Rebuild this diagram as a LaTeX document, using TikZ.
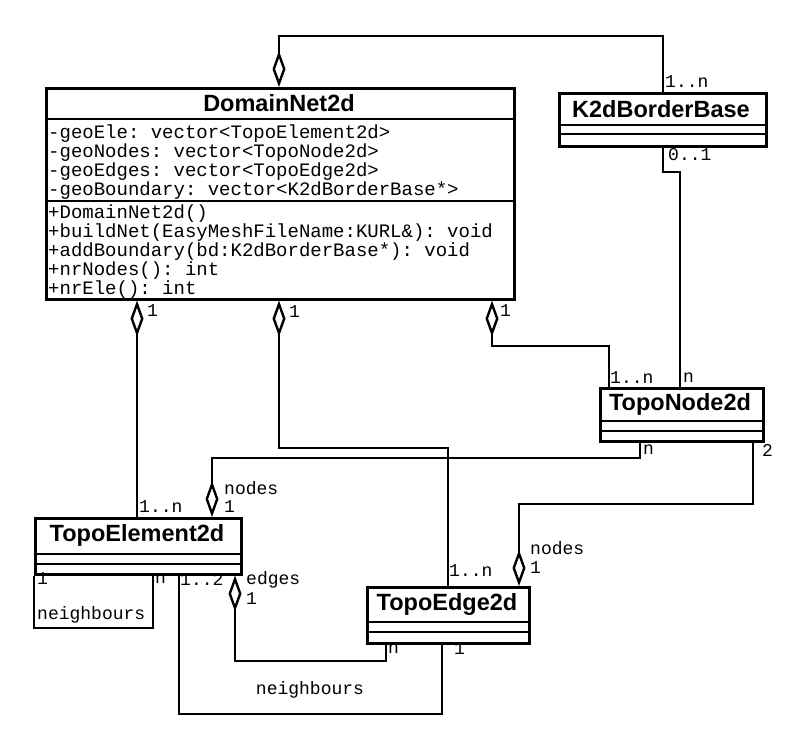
\documentclass[tikz,border=0pt]{standalone}
\usepackage{fontspec}
\setmainfont{Liberation Sans}
\setmonofont{Liberation Mono}
\usetikzlibrary{arrows.meta, positioning, calc}

\tikzset{
    classbox/.style={draw, line width=2.6pt, inner sep=0pt, anchor=north west},
    classname/.style={font=\bfseries\fontsize{23.5}{28}\selectfont, inner sep=0pt},
    members/.style={font=\ttfamily\fontsize{19}{19}\selectfont, align=left, anchor=north west, inner sep=0pt},
    mult/.style={font=\ttfamily\fontsize{18}{18}\selectfont, inner sep=0pt, anchor=west},
    conn/.style={line width=2.4pt},
    agg/.style={conn, {Diamond[open, length=36pt, width=13pt]}-},
    aggend/.style={conn, -{Diamond[open, length=36pt, width=13pt]}}
}

\begin{document}
\begin{tikzpicture}[x=1pt, y=-1pt]
    \useasboundingbox (0,0) rectangle (789,735);

    % classes
    \node[classbox, minimum width=468pt, minimum height=211pt] (dom) at (45,87) {};
    \node[classbox, minimum width=207pt, minimum height=53pt] (k2d) at (558,92) {};
    \node[classbox, minimum width=163pt, minimum height=53pt] (tnode) at (599,387) {};
    \node[classbox, minimum width=206pt, minimum height=56pt] (telem) at (34,517) {};
    \node[classbox, minimum width=162pt, minimum height=56pt] (tedge) at (366,586) {};

    \draw[line width=2.6pt]
    (dom.west |- 0,119) -- (dom.east |- 0,119)
    (dom.west |- 0,201) -- (dom.east |- 0,201)
    (k2d.west |- 0,125) -- (k2d.east |- 0,125)
    (k2d.west |- 0,134) -- (k2d.east |- 0,134)
    (tnode.west |- 0,421) -- (tnode.east |- 0,421)
    (tnode.west |- 0,431) -- (tnode.east |- 0,431)
    (telem.west |- 0,554) -- (telem.east |- 0,554)
    (telem.west |- 0,564) -- (telem.east |- 0,564)
    (tedge.west |- 0,622) -- (tedge.east |- 0,622)
    (tedge.west |- 0,632) -- (tedge.east |- 0,632);

    \node[classname] (domname) at (279,103) {DomainNet2d};
    \node[classname] (k2dname) at (661,109) {K2dBorderBase};
    \node[classname] (tnodename) at (680,404) {TopoNode2d};
    \node[classname] (telemname) at (137,535) {TopoElement2d};
    \node[classname] (tedgename) at (447,604) {TopoEdge2d};

    \node[members] (domattr) at (48,125) {-geoEle: vector<TopoElement2d>\\-geoNodes: vector<TopoNode2d>\\-geoEdges: vector<TopoEdge2d>\\-geoBoundary: vector<K2dBorderBase*>};
    \node[members] (dommeth) at (48,205) {+DomainNet2d()\\+buildNet(EasyMeshFileName:KURL\&): void\\+addBoundary(bd:K2dBorderBase*): void\\+nrNodes(): int\\+nrEle(): int};

    % associations
    \draw[agg] (dom.north -| 279,0) |- (600,36) -| (k2d.north -| 663,0);
    \draw[conn] (k2d.south -| 663,0) |- (670,172) -| (tnode.north -| 680,0);
    \draw[agg] (dom.south -| 492,0) |- (550,346) -| (tnode.north -| 609,0);
    \draw[aggend] (tnode.south -| 640,0) |- (400,458) -| (telem.north -| 212,0);
    \draw[agg] (dom.south -| 279,0) |- (350,448) -| (tedge.north -| 448,0);
    \draw[agg] (dom.south -| 137,0) -- (telem.north -| 137,0);
    \draw[conn] (telem.south west) |- (100,628) -| (telem.south -| 153,0);
    \draw[agg] (telem.south -| 235,0) |- (300,661) -| (tedge.south -| 386,0);
    \draw[conn] (telem.south -| 179,0) |- (300,714) -| (tedge.south -| 442,0);
    \draw[aggend] (tnode.south -| 753,0) |- (600,504) -| (tedge.north -| 519,0);

    % multiplicities and roles
    \node[mult] (m1) at (665,82) {1..n};
    \node[mult] (m2) at (668,155) {0..1};
    \node[mult] (m3) at (683,378) {n};
    \node[mult] (m4) at (610,378) {1..n};
    \node[mult] (m5) at (500,311) {1};
    \node[mult] (m6) at (289,312) {1};
    \node[mult] (m7) at (147,311) {1};
    \node[mult] (m8) at (139,507) {1..n};
    \node[mult] (m9) at (224,488) {nodes};
    \node[mult] (m10) at (224,507) {1};
    \node[mult] (m11) at (643,450) {n};
    \node[mult] (m12) at (762,450) {2};
    \node[mult] (m13) at (449,571) {1..n};
    \node[mult] (m14) at (530,548) {nodes};
    \node[mult] (m15) at (530,568) {1};
    \node[mult] (m16) at (37,579) {1};
    \node[mult] (m17) at (155,579) {n};
    \node[mult] (m18) at (37,615) {neighbours};
    \node[mult] (m19) at (180,579) {1..2};
    \node[mult] (m20) at (246,580) {edges};
    \node[mult] (m21) at (246,599) {1};
    \node[mult] (m22) at (388,649) {n};
    \node[mult] (m23) at (454,649) {1};
    \node[mult, anchor=center] (m24) at (310,690) {neighbours};
\end{tikzpicture}
\end{document}
